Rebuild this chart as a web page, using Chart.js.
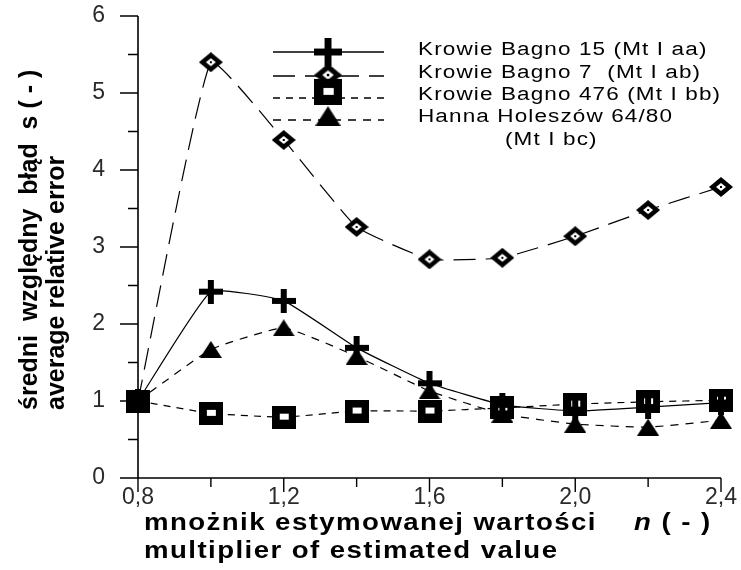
<!DOCTYPE html>
<html>
<head>
<meta charset="utf-8">
<script src="https://cdn.jsdelivr.net/npm/chart.js@4.4.1/dist/chart.umd.min.js"></script>
<style>
  html, body { margin: 0; padding: 0; background: #ffffff; }
  #wrap { width: 741px; height: 570px; }
</style>
</head>
<body>
<div id="wrap"><canvas id="c" width="741" height="570"></canvas></div>
<script>
// multiplier n of the estimated value
const nValues = [0.8, 1.0, 1.2, 1.4, 1.6, 1.8, 2.0, 2.2, 2.4];

// average relative error s for each deposit
const krowieBagno15  = [1.0, 2.42, 2.30, 1.69, 1.23, 0.95, 0.87, 0.92, 0.98];
const krowieBagno7   = [1.0, 5.40, 4.39, 3.26, 2.84, 2.86, 3.14, 3.48, 3.78];
const krowieBagno476 = [1.0, 0.84, 0.79, 0.87, 0.87, 0.91, 0.96, 0.99, 1.01];
const hannaHoleszow  = [1.0, 1.67, 1.95, 1.58, 1.13, 0.83, 0.70, 0.66, 0.75];

const seriesNames = [
  ['Krowie Bagno 15 (Mt I aa)'],
  ['Krowie Bagno 7  (Mt I ab)'],
  ['Krowie Bagno 476 (Mt I bb)'],
  ['Hanna Holeszów 64/80', '(Mt I bc)']
];

// axis ticks
const xLabelValues = [0.8, 1.2, 1.6, 2.0, 2.4];
const xTickLabels  = ['0,8', '1,2', '1,6', '2,0', '2,4'];
const xMinorValues = [1.0, 1.4, 1.8, 2.2];
const yLabelValues = [0, 1, 2, 3, 4, 5, 6];
const yTickLabels  = ['0', '1', '2', '3', '4', '5', '6'];
const yMinorValues = [0.5, 1.5, 2.5, 3.5, 4.5, 5.5];

const yTitleLines = ['średni  względny  błąd  s ( - )', 'average relative error'];
const xTitleLine1 = 'mnożnik estymowanej wartości';
const xTitleVar   = 'n';
const xTitleUnit  = ' ( - )';
const xTitleLine2 = 'multiplier of estimated value';

// ---- marker symbols ----
function makeSymbol(w, h, paint) {
  const c = document.createElement('canvas');
  c.width = w; c.height = h;
  const g = c.getContext('2d');
  g.fillStyle = '#000';
  paint(g, w, h);
  return c;
}
const plusSymbol = makeSymbol(24, 24, (g, w, h) => {
  g.fillRect(0, 9, w, 6);
  g.fillRect(9, 0, 6, h);
});
const diamondSymbol = makeSymbol(24, 20, (g) => {
  g.beginPath();
  g.moveTo(12, 0); g.lineTo(24, 10); g.lineTo(12, 20); g.lineTo(0, 10);
  g.closePath(); g.fill();
  g.fillStyle = '#fff';
  g.beginPath();
  g.moveTo(12, 6); g.lineTo(17, 10); g.lineTo(12, 14); g.lineTo(7, 10);
  g.closePath(); g.fill();
  g.fillStyle = '#000';
  g.fillRect(11, 9, 2, 2);
});
const squareSymbol = makeSymbol(24, 23, (g, w, h) => {
  g.fillRect(0, 0, w, h);
  g.fillStyle = '#fff';
  g.fillRect(8, 8, 9, 6);
});
const triangleSymbol = makeSymbol(22, 17, (g) => {
  g.beginPath();
  g.moveTo(11, 0); g.lineTo(22, 17); g.lineTo(0, 17);
  g.closePath(); g.fill();
});

function toPoints(values) {
  return nValues.map((x, i) => ({ x: x, y: values[i] }));
}

const baseSeries = {
  borderColor: '#000',
  backgroundColor: '#000',
  borderWidth: 1.2,
  pointRadius: 11,
  pointHoverRadius: 11,
  tension: 0.12,
  fill: false,
  clip: false
};

const datasets = [
  Object.assign({}, baseSeries, { label: seriesNames[0], data: toPoints(krowieBagno15),  pointStyle: plusSymbol,     borderDash: [] }),
  Object.assign({}, baseSeries, { label: seriesNames[1], data: toPoints(krowieBagno7),   pointStyle: diamondSymbol,  borderDash: [22, 10] }),
  Object.assign({}, baseSeries, { label: seriesNames[2], data: toPoints(krowieBagno476), pointStyle: squareSymbol,   borderDash: [7, 6] }),
  Object.assign({}, baseSeries, { label: seriesNames[3], data: toPoints(hannaHoleszow),  pointStyle: triangleSymbol, borderDash: [8, 7] })
];

function stretchedText(ctx, text, x, y, sx) {
  ctx.save();
  ctx.translate(x, y);
  ctx.scale(sx, 1);
  ctx.fillText(text, 0, 0);
  const w = ctx.measureText(text).width * sx;
  ctx.restore();
  return w;
}

// axes, tick marks and tick labels
const axesPlugin = {
  id: 'plainAxes',
  beforeDatasetsDraw(chart) {
    const ctx = chart.ctx;
    const a = chart.chartArea;
    const xs = chart.scales.x, ys = chart.scales.y;
    ctx.save();
    ctx.strokeStyle = '#000';
    ctx.lineWidth = 1.6;
    ctx.beginPath();
    ctx.moveTo(a.left, a.top); ctx.lineTo(a.left, a.bottom);
    ctx.moveTo(a.left, a.bottom); ctx.lineTo(a.right, a.bottom);
    ctx.stroke();
    ctx.lineWidth = 1.4;
    ctx.beginPath();
    xLabelValues.forEach(v => { const px = xs.getPixelForValue(v); ctx.moveTo(px, a.bottom); ctx.lineTo(px, a.bottom + 14); });
    xMinorValues.forEach(v => { const px = xs.getPixelForValue(v); ctx.moveTo(px, a.bottom); ctx.lineTo(px, a.bottom + 9); });
    yLabelValues.forEach(v => { const py = ys.getPixelForValue(v); ctx.moveTo(a.left, py); ctx.lineTo(a.left - 18, py); });
    yMinorValues.forEach(v => { const py = ys.getPixelForValue(v); ctx.moveTo(a.left, py); ctx.lineTo(a.left - 10, py); });
    ctx.stroke();

    ctx.fillStyle = '#2a2a2a';
    ctx.font = '23px "Liberation Sans", Arial, sans-serif';
    ctx.textBaseline = 'middle';
    ctx.textAlign = 'center';
    xLabelValues.forEach((v, i) => ctx.fillText(xTickLabels[i], xs.getPixelForValue(v), a.bottom + 20));
    ctx.textAlign = 'right';
    yLabelValues.forEach((v, i) => ctx.fillText(yTickLabels[i], a.left - 33, ys.getPixelForValue(v)));
    ctx.restore();
  },
  afterDraw(chart) {
    const ctx = chart.ctx;
    const a = chart.chartArea;
    ctx.save();
    ctx.fillStyle = '#000';

    // vertical axis title
    ctx.font = 'bold 25px "Liberation Sans", Arial, sans-serif';
    ctx.textAlign = 'left';
    ctx.textBaseline = 'alphabetic';
    [37, 64].forEach((bx, i) => {
      ctx.save();
      ctx.translate(bx, 410);
      ctx.rotate(-Math.PI / 2);
      ctx.fillText(yTitleLines[i], 0, 0);
      ctx.restore();
    });

    // horizontal axis title
    ctx.letterSpacing = '1.2px';
    ctx.font = 'bold 23px "Liberation Sans", Arial, sans-serif';
    stretchedText(ctx, xTitleLine1, 144, a.bottom + 52, 1.2);
    ctx.font = 'italic bold 23px "Liberation Sans", Arial, sans-serif';
    const wn = stretchedText(ctx, xTitleVar, 634, a.bottom + 52, 1.2);
    ctx.font = 'bold 23px "Liberation Sans", Arial, sans-serif';
    stretchedText(ctx, xTitleUnit, 634 + wn, a.bottom + 52, 1.2);
    stretchedText(ctx, xTitleLine2, 144, a.bottom + 80, 1.2);

    // legend
    const rows = [
      { lineY: 52, markY: 52, textY: [50] },
      { lineY: 76, markY: 75, textY: [73] },
      { lineY: 98, markY: 92, textY: [95] },
      { lineY: 120, markY: 116, textY: [117, 140] }
    ];
    const textX = [418, 505];
    ctx.letterSpacing = '0.9px';
    ctx.font = '18px "Liberation Sans", Arial, sans-serif';
    ctx.textBaseline = 'middle';
    rows.forEach((r, i) => {
      const ds = chart.data.datasets[i];
      ctx.save();
      ctx.strokeStyle = '#000';
      ctx.lineWidth = 1.3;
      ctx.setLineDash(ds.borderDash);
      ctx.beginPath();
      ctx.moveTo(273, r.lineY); ctx.lineTo(384, r.lineY);
      ctx.stroke();
      ctx.restore();
      const img = ds.pointStyle;
      const w = img.width * 1.15, h = img.height * 1.15;
      ctx.drawImage(img, 328 - w / 2, r.markY - h / 2, w, h);
      ds.label.forEach((t, k) => stretchedText(ctx, t, textX[k], r.textY[k], 1.25));
    });
    ctx.restore();
  }
};

new Chart(document.getElementById('c'), {
  type: 'line',
  data: { datasets: datasets },
  options: {
    responsive: false,
    animation: false,
    layout: { padding: { left: 138, right: 20, top: 16, bottom: 92 } },
    scales: {
      x: { type: 'linear', min: 0.8, max: 2.4, display: false },
      y: { type: 'linear', min: 0, max: 6, display: false }
    },
    plugins: {
      legend: { display: false },
      tooltip: { enabled: false }
    },
    events: []
  },
  plugins: [axesPlugin]
});
</script>
</body>
</html>
